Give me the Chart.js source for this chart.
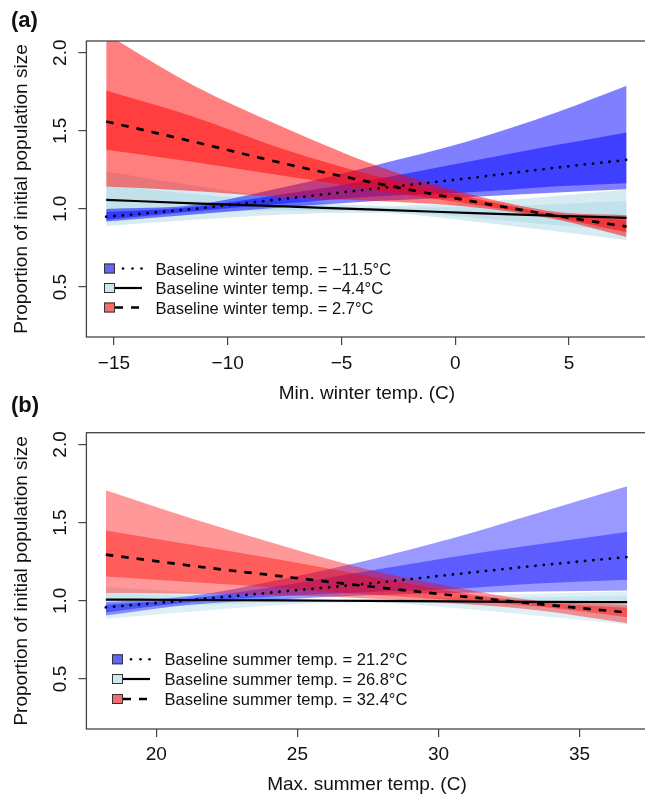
<!DOCTYPE html>
<html>
<head>
<meta charset="utf-8">
<script src="https://cdn.jsdelivr.net/npm/chart.js@4.4.1/dist/chart.umd.min.js"></script>
<style>
  html, body { margin: 0; padding: 0; overflow: hidden; background: #fff; width: 645px; height: 794px; }
  canvas { position: absolute; left: 0; }
</style>
</head>
<body>
<canvas id="chartA" width="660" height="405" style="top:0"></canvas>
<canvas id="chartB" width="660" height="412" style="top:385px"></canvas>
<script>
const FONT = '"Liberation Sans", Arial, Helvetica, sans-serif';

// ---- panel (a): min. winter temp ----
const xa = [-15.34, -11.5, -7.5, -3.5, 0.5, 4.5, 7.53];
const aTicksX = [-15, -10, -5, 0, 5];
const aLabels = ['Baseline winter temp. = \u221211.5\u00b0C', 'Baseline winter temp. = \u22124.4\u00b0C', 'Baseline winter temp. = 2.7\u00b0C'];

const aBlueMean = [0.95, 1.0, 1.065, 1.13, 1.195, 1.265, 1.314];
const aBlueOutHi = [1.00, 1.025, 1.14, 1.28, 1.43, 1.62, 1.788];
const aBlueOutLo = [0.92, 0.965, 1.01, 1.05, 1.075, 1.105, 1.126];
const aBlueInHi = [0.98, 1.012, 1.095, 1.19, 1.30, 1.41, 1.489];
const aBlueInLo = [0.93, 0.985, 1.035, 1.08, 1.105, 1.145, 1.165];

const aLbMean = [1.058, 1.036, 1.016, 0.995, 0.975, 0.955, 0.943];
const aLbOutHi = [1.24, 1.15, 1.07, 1.02, 1.04, 1.085, 1.122];
const aLbOutLo = [0.89, 0.93, 0.965, 0.975, 0.925, 0.855, 0.80];
const aLbInHi = [1.15, 1.095, 1.045, 1.008, 1.01, 1.03, 1.05];
const aLbInLo = [0.97, 0.978, 0.99, 0.985, 0.948, 0.895, 0.86];

const aRedMean = [1.56, 1.43, 1.29, 1.165, 1.055, 0.955, 0.887];
const aRedOutHi = [2.12, 1.79, 1.52, 1.28, 1.10, 0.98, 0.96];
const aRedOutLo = [1.143, 1.115, 1.075, 1.05, 1.015, 0.93, 0.82];
const aRedInHi = [1.758, 1.59, 1.38, 1.21, 1.08, 0.965, 0.93];
const aRedInLo = [1.378, 1.30, 1.21, 1.12, 1.035, 0.94, 0.85];

// ---- panel (b): max. summer temp ----
const xb = [18.21, 21.2, 24.5, 27.5, 30.5, 33.5, 36.69];
const bTicksX = [20, 25, 30, 35];
const bLabels = ['Baseline summer temp. = 21.2\u00b0C', 'Baseline summer temp. = 26.8\u00b0C', 'Baseline summer temp. = 32.4\u00b0C'];

const bBlueMean = [0.958, 1.005, 1.06, 1.11, 1.168, 1.225, 1.28];
const bBlueOutHi = [0.99, 1.03, 1.14, 1.26, 1.40, 1.56, 1.733];
const bBlueOutLo = [0.906, 0.975, 1.01, 1.035, 1.05, 1.06, 1.066];
const bBlueInHi = [0.975, 1.015, 1.10, 1.19, 1.28, 1.36, 1.44];
const bBlueInLo = [0.925, 0.99, 1.03, 1.055, 1.075, 1.11, 1.135];

const bLbMean = [1.008, 1.005, 1.002, 0.999, 0.996, 0.993, 0.991];
const bLbOutHi = [1.09, 1.055, 1.02, 1.01, 1.025, 1.045, 1.06];
const bLbOutLo = [0.885, 0.93, 0.975, 0.99, 0.955, 0.905, 0.85];
const bLbInHi = [1.05, 1.032, 1.012, 1.004, 1.012, 1.022, 1.032];
const bLbInLo = [0.95, 0.97, 0.99, 0.995, 0.98, 0.96, 0.94];

const bRedMean = [1.295, 1.225, 1.155, 1.093, 1.035, 0.98, 0.925];
const bRedOutHi = [1.707, 1.53, 1.35, 1.20, 1.09, 1.0, 0.975];
const bRedOutLo = [1.05, 1.045, 1.035, 1.015, 0.985, 0.94, 0.857];
const bRedInHi = [1.45, 1.36, 1.26, 1.16, 1.06, 0.99, 0.955];
const bRedInLo = [1.156, 1.12, 1.08, 1.04, 1.005, 0.965, 0.895];

const yTicks = [0.5, 1.0, 1.5, 2.0];

function pts(x, ys) { return x.map((v, i) => ({ x: v, y: ys[i] })); }

function band(x, lo, hi, color, order) {
  const base = { borderWidth: 0, pointRadius: 0, cubicInterpolationMode: 'monotone', order };
  return [
    Object.assign({ data: pts(x, lo), fill: false }, base),
    Object.assign({ data: pts(x, hi), fill: '-1', backgroundColor: color }, base)
  ];
}

const DOT = { borderDash: [0.1, 8.2], borderCapStyle: 'round', borderWidth: 2.8 };
const DASH = { borderDash: [7.5, 8], borderWidth: 2.7 };
const SOLID = { borderDash: [], borderWidth: 2.2 };

function line(x, ys, style) {
  return Object.assign({ data: pts(x, ys), borderColor: '#000', pointRadius: 0, fill: false, cubicInterpolationMode: 'monotone', order: 0 }, style);
}

function fmt(v) { return v < 0 ? '\u2212' + Math.abs(v) : String(v); }

const deco = {
  id: 'deco',
  afterDraw(chart, args, o) {
    const { ctx, chartArea: a, scales: { x, y } } = chart;
    ctx.save();
    ctx.strokeStyle = '#444';
    ctx.lineWidth = 1.3;
    ctx.strokeRect(a.left, a.top, a.right - a.left, a.bottom - a.top);

    ctx.fillStyle = '#111';
    ctx.font = '19px ' + FONT;
    ctx.textAlign = 'center';
    ctx.textBaseline = 'alphabetic';
    x.ticks.forEach(t => ctx.fillText(fmt(t.value), x.getPixelForValue(t.value), a.bottom + o.tickGap));
    ctx.fillText(o.xTitle, (a.left + a.right) / 2, a.bottom + o.titleGap);

    y.ticks.forEach(t => {
      ctx.save();
      ctx.translate(65.5, y.getPixelForValue(t.value));
      ctx.rotate(-Math.PI / 2);
      ctx.fillText(t.value.toFixed(1), 0, 0);
      ctx.restore();
    });
    ctx.save();
    ctx.translate(26.5, (a.top + a.bottom) / 2);
    ctx.rotate(-Math.PI / 2);
    ctx.fillText('Proportion of initial population size', 0, 0);
    ctx.restore();

    ctx.font = 'bold 22px ' + FONT;
    ctx.textAlign = 'left';
    ctx.fillText(o.tag, 11, 27);

    // legend
    const L = o.legend;
    ctx.font = '16.5px ' + FONT;
    L.rows.forEach((cy, i) => {
      ctx.fillStyle = L.fills[i];
      ctx.fillRect(L.sq, cy - 5, 11, 10);
      ctx.strokeStyle = '#333';
      ctx.lineWidth = 1;
      ctx.strokeRect(L.sq + 0.5, cy - 4.5, 10, 9);
      ctx.strokeStyle = '#000';
      const x0 = L.sq + 11, x1 = L.sq + 38;
      if (i === 0) {
        ctx.fillStyle = '#000';
        [8, 17.5, 26.5].forEach(d => { ctx.beginPath(); ctx.arc(x0 + d, cy, 1.3, 0, 2 * Math.PI); ctx.fill(); });
      } else if (i === 1) {
        ctx.lineWidth = 2.2;
        ctx.beginPath(); ctx.moveTo(x0, cy); ctx.lineTo(x1, cy); ctx.stroke();
      } else {
        ctx.lineWidth = 2.7;
        ctx.beginPath(); ctx.moveTo(x0, cy); ctx.lineTo(x0 + 8, cy); ctx.moveTo(x0 + 16, cy); ctx.lineTo(x0 + 24, cy); ctx.stroke();
      }
      ctx.fillStyle = '#111';
      ctx.fillText(L.labels[i], L.text, cy + 6);
    });
    ctx.restore();
  }
};

function makeChart(id, cfg) {
  const col = (r, g, b) => 'rgba(' + r + ',' + g + ',' + b + ',' + cfg.alpha + ')';
  const blue = col(0, 0, 255), lb = col(173, 216, 230), red = col(255, 0, 0);
  const d = cfg.data;
  const datasets = [].concat(
    band(cfg.x, d.lbOutLo, d.lbOutHi, lb, 10),
    band(cfg.x, d.lbInLo, d.lbInHi, lb, 9),
    band(cfg.x, d.blueOutLo, d.blueOutHi, blue, 8),
    band(cfg.x, d.blueInLo, d.blueInHi, blue, 7),
    band(cfg.x, d.redOutLo, d.redOutHi, red, 6),
    band(cfg.x, d.redInLo, d.redInHi, red, 5),
    [line(cfg.x, d.lbMean, SOLID), line(cfg.x, d.redMean, DASH), line(cfg.x, d.blueMean, DOT)]
  );
  const tickGrid = { display: true, drawOnChartArea: false, drawTicks: true, tickLength: 8, color: '#444', lineWidth: 1.2 };
  return new Chart(document.getElementById(id), {
    type: 'line',
    data: { datasets },
    plugins: [deco],
    options: {
      responsive: false,
      animation: false,
      events: [],
      layout: { padding: { top: cfg.top, right: 12.5, left: 0, bottom: 0 } },
      scales: {
        x: {
          type: 'linear', min: cfg.xmin, max: cfg.xmax,
          afterBuildTicks: s => { s.ticks = cfg.xticks.map(v => ({ value: v })); },
          afterFit: s => { s.height = cfg.xh; },
          ticks: { display: false },
          grid: tickGrid,
          border: { display: false }
        },
        y: {
          type: 'linear', min: 0.18, max: 2.075,
          afterBuildTicks: s => { s.ticks = yTicks.map(v => ({ value: v })); },
          afterFit: s => { s.width = 86.4; },
          ticks: { display: false },
          grid: tickGrid,
          border: { display: false }
        }
      },
      plugins: {
        legend: { display: false },
        tooltip: { enabled: false },
        deco: {
          tag: cfg.tag, xTitle: cfg.xTitle, tickGap: cfg.tickGap, titleGap: cfg.titleGap,
          legend: cfg.legend
        }
      }
    }
  });
}

const legendFills = ['rgb(100,100,245)', 'rgb(206,232,240)', 'rgb(245,108,108)'];

makeChart('chartA', {
  tag: '(a)', xTitle: 'Min. winter temp. (C)', alpha: 0.5,
  top: 41, xh: 68, tickGap: 32, titleGap: 61.5,
  x: xa, xmin: -16.21, xmax: 8.45, xticks: aTicksX,
  data: {
    blueMean: aBlueMean, blueOutHi: aBlueOutHi, blueOutLo: aBlueOutLo, blueInHi: aBlueInHi, blueInLo: aBlueInLo,
    lbMean: aLbMean, lbOutHi: aLbOutHi, lbOutLo: aLbOutLo, lbInHi: aLbInHi, lbInLo: aLbInLo,
    redMean: aRedMean, redOutHi: aRedOutHi, redOutLo: aRedOutLo, redInHi: aRedInHi, redInLo: aRedInLo
  },
  legend: { sq: 104, text: 155.5, rows: [268.5, 288, 307.5], labels: aLabels, fills: legendFills }
});

makeChart('chartB', {
  tag: '(b)', xTitle: 'Max. summer temp. (C)', alpha: 0.4,
  top: 47.7, xh: 68, tickGap: 31, titleGap: 61,
  x: xb, xmin: 17.52, xmax: 37.41, xticks: bTicksX,
  data: {
    blueMean: bBlueMean, blueOutHi: bBlueOutHi, blueOutLo: bBlueOutLo, blueInHi: bBlueInHi, blueInLo: bBlueInLo,
    lbMean: bLbMean, lbOutHi: bLbOutHi, lbOutLo: bLbOutLo, lbInHi: bLbInHi, lbInLo: bLbInLo,
    redMean: bRedMean, redOutHi: bRedOutHi, redOutLo: bRedOutLo, redInHi: bRedInHi, redInLo: bRedInLo
  },
  legend: { sq: 112, text: 164.6, rows: [274.3, 294, 314], labels: bLabels, fills: legendFills }
});
</script>
</body>
</html>
